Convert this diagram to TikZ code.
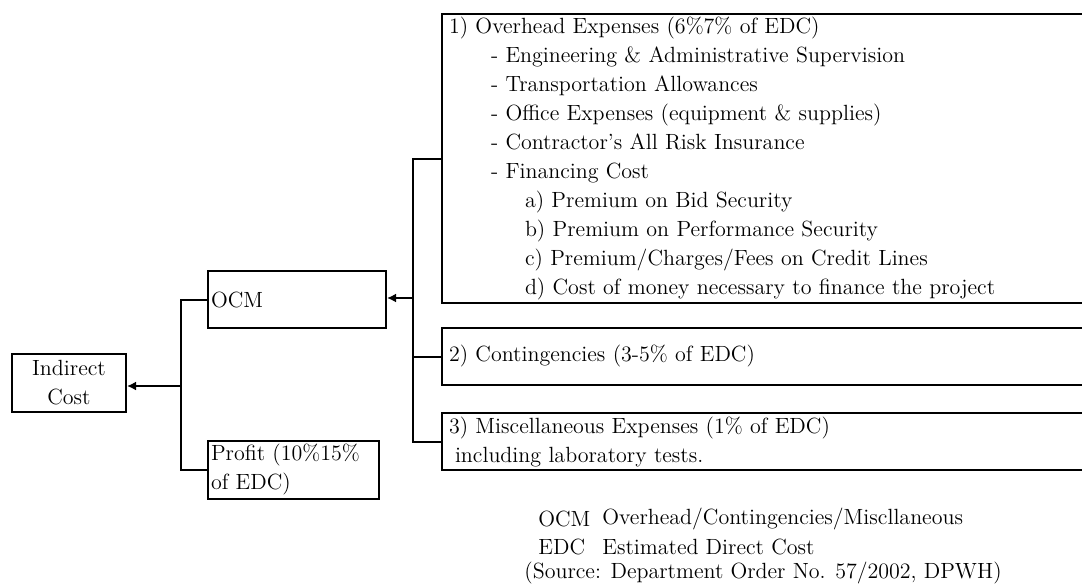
\documentclass[tikz,border=0pt]{standalone}
\usetikzlibrary{arrows.meta}
\usetikzlibrary{positioning}

\tikzset{
  box/.style={draw, line width=1pt, inner ysep=1.5pt},
  panel/.style={box, anchor=north west, align=left, text width=330pt, inner xsep=3.5pt},
  tag/.style={box, anchor=north west, align=left, inner xsep=1.5pt},
  link/.style={line width=1pt},
  arr/.style={link, -{Latex[length=4.5pt,width=4.5pt]}},
  note/.style={anchor=west, inner sep=0pt}
}

\begin{document}
\begin{tikzpicture}[x=0.5pt, y=-0.5pt, font=\fontsize{11}{14.5}\selectfont]
\clip (0,0) rectangle (1082,584);

% cost side
\node[box, minimum width=57pt, minimum height=29pt, align=center] (indirect) at (69,383) {Indirect\\Cost};
\node[tag, text width=86pt, minimum height=28.5pt] (ocm) at (207,270) {OCM};
\node[tag, text width=82.5pt, minimum height=29pt] (profit) at (207,440) {Profit (10\%15\%\\of EDC)};

% breakdown of OCM
\node[panel] (ovh) at (441,13) {1) Overhead Expenses (6\%7\% of EDC)\\
\hspace*{21pt}- Engineering \& Administrative Supervision\\
\hspace*{21pt}- Transportation Allowances\\
\hspace*{21pt}- Office Expenses (equipment \& supplies)\\
\hspace*{21pt}- Contractor's All Risk Insurance\\
\hspace*{21pt}- Financing Cost\\
\hspace*{38pt}a) Premium on Bid Security\\
\hspace*{38pt}b) Premium on Performance Security\\
\hspace*{38pt}c) Premium/Charges/Fees on Credit Lines\\
\hspace*{38pt}d) Cost of money necessary to finance the project};
\node[panel, minimum height=28.5pt] (cont) at (441,327) {2) Contingencies (3-5\% of EDC)};
\node[panel, minimum height=28.5pt] (misc) at (441,412) {3) Miscellaneous Expenses (1\% of EDC)\\
\hspace*{3pt}including laboratory tests.};

% connectors
\coordinate (trunk) at (181,386);
\coordinate (branch) at (413,298);
\draw[link] (ocm.west) -| (trunk) |- (profit.west);
\draw[arr] (trunk) -- (trunk -| indirect.east);
\draw[link] (ovh.west) -| (branch) |- (misc.west);
\draw[link] (cont.west) -- (cont.west -| branch);
\draw[arr] (branch) -- (branch -| ocm.east);

% legend
\node[note] (ocmkey) at (538,519) {OCM};
\node[note] (ocmdef) at (602,519) {Overhead/Contingencies/Miscllaneous};
\node[note] (edckey) at (538,547) {EDC};
\node[note] (edcdef) at (602,547) {Estimated Direct Cost};
\node[note] (source) at (524,573) {(Source: Department Order No. 57/2002, DPWH)};

\end{tikzpicture}
\end{document}
